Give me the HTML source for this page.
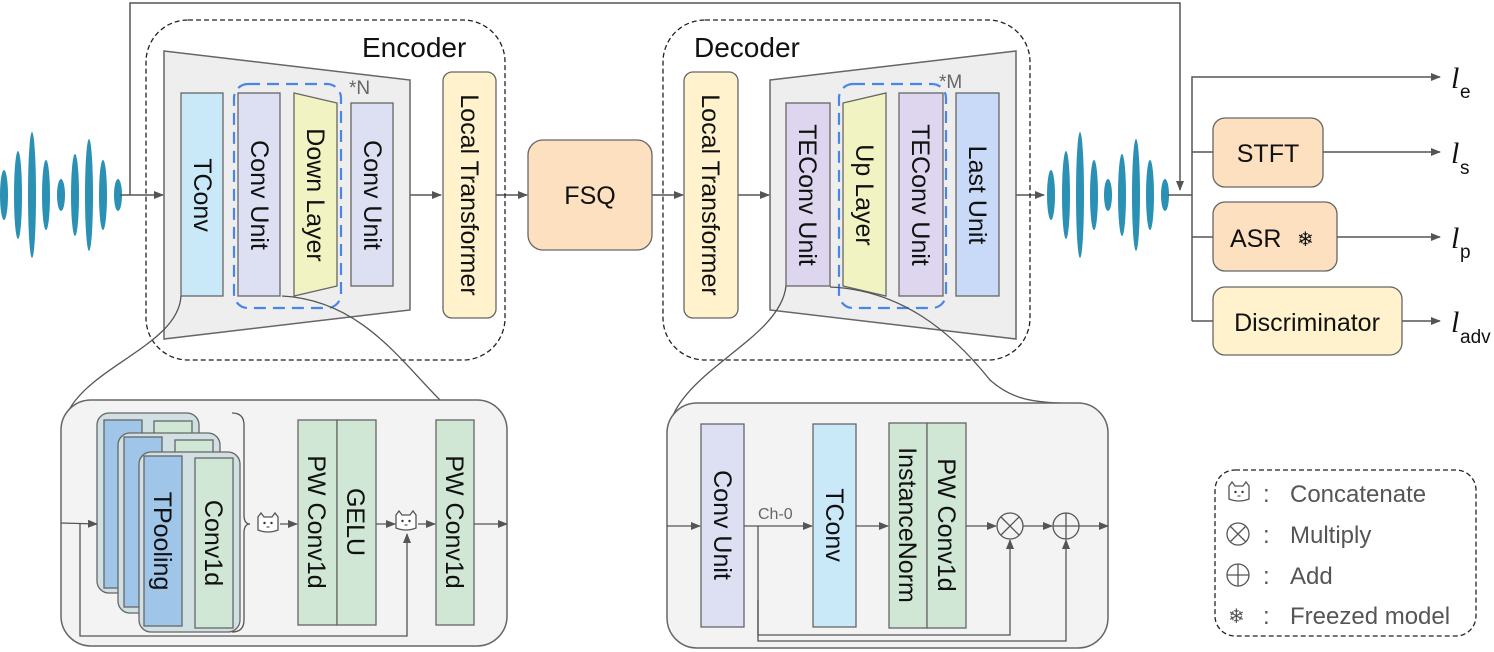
<!DOCTYPE html>
<html><head><meta charset="utf-8"><style>
html,body{margin:0;padding:0;background:#fff;}
svg{display:block;font-family:"Liberation Sans",Arial,sans-serif;}
</style></head><body>
<svg width="1494" height="652" viewBox="0 0 1494 652" xmlns="http://www.w3.org/2000/svg">
<defs>
<marker id="ah" markerWidth="10" markerHeight="8" refX="9" refY="4" orient="auto" markerUnits="userSpaceOnUse"><path d="M0,0 L10,4 L0,8 z" fill="#555"/></marker>
<g id="cat"><path d="M-10,-7 L-7,-11 L-4,-7 L4,-7 L7,-11 L10,-7 L10,6 Q0,10 -10,6 Z" fill="#fff" stroke="#555" stroke-width="1.3"/><circle cx="-3.5" cy="-1" r="1.2" fill="#333"/><circle cx="3.5" cy="-1" r="1.2" fill="#333"/><path d="M-1.5,3 L1.5,3" stroke="#333"/></g>
</defs>
<g stroke="#555" stroke-width="1.5" fill="none">
<polyline points="130,195 130,3 1180,3 1180,190" marker-end="url(#ah)"/>
</g>
<g fill="#2b91b4">
<ellipse cx="4" cy="195" rx="4" ry="25"/><ellipse cx="18" cy="195" rx="4" ry="44"/><ellipse cx="32" cy="195" rx="4" ry="63"/><ellipse cx="46" cy="195" rx="4" ry="35"/><ellipse cx="61" cy="195" rx="4" ry="16"/><ellipse cx="75" cy="195" rx="4" ry="41"/><ellipse cx="89" cy="195" rx="4" ry="56"/><ellipse cx="103" cy="195" rx="4" ry="35"/><ellipse cx="118" cy="195" rx="4" ry="16"/>
<ellipse cx="1051" cy="195" rx="4" ry="25"/><ellipse cx="1066" cy="195" rx="4" ry="44"/><ellipse cx="1080" cy="195" rx="4" ry="63"/><ellipse cx="1094" cy="195" rx="4" ry="35"/><ellipse cx="1108" cy="195" rx="4" ry="16"/><ellipse cx="1122" cy="195" rx="4" ry="41"/><ellipse cx="1136" cy="195" rx="4" ry="56"/><ellipse cx="1150" cy="195" rx="4" ry="35"/><ellipse cx="1165" cy="195" rx="4" ry="16"/>
</g>
<g stroke="#555" stroke-width="1.5" fill="none">
<line x1="120" y1="195" x2="163" y2="195" marker-end="url(#ah)"/>
<line x1="410" y1="195" x2="441" y2="195" marker-end="url(#ah)"/>
<line x1="496" y1="195" x2="527" y2="195" marker-end="url(#ah)"/>
<line x1="652" y1="195" x2="683" y2="195" marker-end="url(#ah)"/>
<line x1="738" y1="195" x2="769" y2="195" marker-end="url(#ah)"/>
<line x1="1016" y1="195" x2="1044" y2="195" marker-end="url(#ah)"/>
<polyline points="1168,195 1192,195"/>
<polyline points="1192,321 1192,77 1440,77" marker-end="url(#ah)"/>
<line x1="1192" y1="152" x2="1213" y2="152"/>
<line x1="1192" y1="237" x2="1213" y2="237"/>
<line x1="1192" y1="321" x2="1213" y2="321"/>
<line x1="1323" y1="152" x2="1440" y2="152" marker-end="url(#ah)"/>
<line x1="1337" y1="237" x2="1440" y2="237" marker-end="url(#ah)"/>
<line x1="1402" y1="321" x2="1440" y2="321" marker-end="url(#ah)"/>
</g>
<!-- Encoder -->
<rect x="146" y="20" width="359" height="340" rx="42" fill="none" stroke="#222" stroke-width="1.3" stroke-dasharray="5,3"/>
<text x="362" y="57" font-size="28" fill="#111">Encoder</text>
<polygon points="164,51 410,80 410,310 164,339" fill="#eeeeee" stroke="#666" stroke-width="1.5"/>
<rect x="181" y="93" width="42" height="203" fill="#c9e8f8" stroke="#666" stroke-width="1.3"/>
<rect x="238" y="93" width="42" height="203" fill="#dde0f2" stroke="#666" stroke-width="1.3"/>
<polygon points="294,93 337,103 337,286 294,296" fill="#f1f4c2" stroke="#666" stroke-width="1.3"/>
<rect x="351" y="103" width="42" height="183" fill="#dde0f2" stroke="#666" stroke-width="1.3"/>
<rect x="234" y="84" width="107" height="224" rx="14" fill="none" stroke="#4a86e8" stroke-width="2.2" stroke-dasharray="12,7"/>
<text x="349" y="94" font-size="19" fill="#666">*N</text>
<rect x="443" y="72" width="53" height="246" rx="9" fill="#fff2cc" stroke="#666" stroke-width="1.3"/>
<g font-size="25" fill="#111" text-anchor="middle">
<text transform="translate(194,195) rotate(90)">TConv</text>
<text transform="translate(251,195) rotate(90)">Conv Unit</text>
<text transform="translate(307,195) rotate(90)">Down Layer</text>
<text transform="translate(364,195) rotate(90)">Conv Unit</text>
<text transform="translate(461,195) rotate(90)">Local Transformer</text>
</g>
<rect x="528" y="140" width="124" height="110" rx="15" fill="#fde0bf" stroke="#666" stroke-width="1.3"/>
<text x="590" y="204" font-size="25" text-anchor="middle" fill="#111">FSQ</text>
<!-- Decoder -->
<rect x="663" y="20" width="367" height="340" rx="42" fill="none" stroke="#222" stroke-width="1.3" stroke-dasharray="5,3"/>
<text x="694" y="57" font-size="28" fill="#111">Decoder</text>
<rect x="684" y="72" width="54" height="246" rx="9" fill="#fff2cc" stroke="#666" stroke-width="1.3"/>
<polygon points="770,80 1016,51 1016,339 770,310" fill="#eeeeee" stroke="#666" stroke-width="1.5"/>
<rect x="786" y="103" width="44" height="183" fill="#ddd6ee" stroke="#666" stroke-width="1.3"/>
<polygon points="843,103 886,93 886,296 843,286" fill="#f1f4c2" stroke="#666" stroke-width="1.3"/>
<rect x="899" y="93" width="44" height="203" fill="#ddd6ee" stroke="#666" stroke-width="1.3"/>
<rect x="956" y="93" width="43" height="203" fill="#c9daf8" stroke="#666" stroke-width="1.3"/>
<rect x="839" y="84" width="107" height="224" rx="14" fill="none" stroke="#4a86e8" stroke-width="2.2" stroke-dasharray="12,7"/>
<text x="939" y="88" font-size="19" fill="#666">*M</text>
<g font-size="25" fill="#111" text-anchor="middle">
<text transform="translate(702,195) rotate(90)">Local Transformer</text>
<text transform="translate(799,195) rotate(90)">TEConv Unit</text>
<text transform="translate(856,195) rotate(90)">Up Layer</text>
<text transform="translate(912,195) rotate(90)">TEConv Unit</text>
<text transform="translate(969,195) rotate(90)">Last Unit</text>
</g>
<!-- right side -->
<rect x="1213" y="118" width="110" height="69" rx="12" fill="#fde0bf" stroke="#666" stroke-width="1.3"/>
<text x="1268" y="162" font-size="25" text-anchor="middle" fill="#111">STFT</text>
<rect x="1213" y="202" width="124" height="69" rx="12" fill="#fde0bf" stroke="#666" stroke-width="1.3"/>
<text x="1230" y="247" font-size="25" fill="#111">ASR</text>
<text x="1297" y="246" font-size="20" fill="#111">❄</text>
<rect x="1213" y="287" width="189" height="68" rx="12" fill="#fff2cc" stroke="#666" stroke-width="1.3"/>
<text x="1307" y="331" font-size="25" text-anchor="middle" fill="#111">Discriminator</text>
<g font-size="30" fill="#111" font-style="italic" font-family="Liberation Serif, serif">
<text x="1451" y="88">l</text><text x="1451" y="163">l</text><text x="1451" y="248">l</text><text x="1451" y="332">l</text>
</g>
<g font-size="19" fill="#111">
<text x="1460" y="98">e</text><text x="1460" y="174">s</text><text x="1460" y="258">p</text><text x="1460" y="343">adv</text>
</g>
<!-- zoom curves -->
<g stroke="#555" stroke-width="1.3" fill="none">
<path d="M181,296 C178,350 70,370 62,430"/>
<path d="M282,296 C360,300 400,360 440,400"/>
<path d="M786,286 C780,340 680,370 668,430"/>
<path d="M830,287 C900,290 950,330 990,380 C1010,398 1030,402 1060,403"/>
</g>
<!-- bottom left box -->
<rect x="61" y="400" width="446" height="246" rx="30" fill="#f3f3f3" stroke="#666" stroke-width="1.5"/>
<g stroke="#666" stroke-width="1.3">
<rect x="97" y="413" width="102" height="180" rx="12" fill="#d0e0e3"/>
<rect x="104" y="420" width="38" height="168" fill="#9fc5e8"/>
<rect x="154" y="421" width="38" height="168" fill="#cfe7d4"/>
<rect x="118" y="433" width="102" height="180" rx="12" fill="#d0e0e3"/>
<rect x="124" y="437" width="38" height="170" fill="#9fc5e8"/>
<rect x="175" y="440" width="38" height="168" fill="#cfe7d4"/>
<rect x="139" y="452" width="101" height="180" rx="12" fill="#d0e0e3"/>
<rect x="144" y="456" width="38" height="170" fill="#9fc5e8"/>
<rect x="195" y="458" width="38" height="170" fill="#cfe7d4"/>
<rect x="298" y="420" width="39" height="205" fill="#cfe7d4"/>
<rect x="337" y="420" width="39" height="205" fill="#cfe7d4"/>
<rect x="436" y="420" width="38" height="205" fill="#cfe7d4"/>
</g>
<g font-size="25" fill="#111" text-anchor="middle">
<text transform="translate(154,541) rotate(90)">TPooling</text>
<text transform="translate(205,543) rotate(90)">Conv1d</text>
<text transform="translate(308,522) rotate(90)">PW Conv1d</text>
<text transform="translate(347,522) rotate(90)">GELU</text>
<text transform="translate(446,522) rotate(90)">PW Conv1d</text>
</g>
<g stroke="#555" stroke-width="1.3" fill="none">
<path d="M232,413 Q244,413 244,425 L244,515 Q244,524 250,524 Q244,524 244,533 L244,620 Q244,632 232,632"/>
<line x1="61" y1="523" x2="97" y2="524" marker-end="url(#ah)"/>
<polyline points="80,524 80,636 407,636 407,534" marker-end="url(#ah)"/>
<line x1="280" y1="524" x2="297" y2="524" marker-end="url(#ah)"/>
<line x1="376" y1="524" x2="395" y2="524" marker-end="url(#ah)"/>
<line x1="418" y1="524" x2="435" y2="524" marker-end="url(#ah)"/>
<line x1="474" y1="524" x2="507" y2="524" marker-end="url(#ah)"/>
</g>
<use href="#cat" x="268" y="524"/>
<use href="#cat" x="406" y="522"/>
<!-- bottom right box -->
<rect x="667" y="403" width="441" height="245" rx="30" fill="#f3f3f3" stroke="#666" stroke-width="1.5"/>
<g stroke="#666" stroke-width="1.3">
<rect x="701" y="424" width="43" height="203" fill="#dde0f2"/>
<rect x="813" y="424" width="43" height="203" fill="#c9e8f8"/>
<rect x="889" y="423" width="38" height="205" fill="#cfe7d4"/>
<rect x="927" y="423" width="39" height="205" fill="#cfe7d4"/>
</g>
<g font-size="25" fill="#111" text-anchor="middle">
<text transform="translate(714,525) rotate(90)">Conv Unit</text>
<text transform="translate(826,525) rotate(90)">TConv</text>
<text transform="translate(899,525) rotate(90)">InstanceNorm</text>
<text transform="translate(938,525) rotate(90)">PW Conv1d</text>
</g>
<text x="758" y="519" font-size="16" fill="#666">Ch-0</text>
<g stroke="#555" stroke-width="1.3" fill="none">
<line x1="667" y1="526" x2="700" y2="526" marker-end="url(#ah)"/>
<line x1="744" y1="526" x2="812" y2="526" marker-end="url(#ah)"/>
<line x1="856" y1="526" x2="888" y2="526" marker-end="url(#ah)"/>
<line x1="966" y1="526" x2="996" y2="526" marker-end="url(#ah)"/>
<line x1="1023" y1="526" x2="1052" y2="526" marker-end="url(#ah)"/>
<line x1="1079" y1="526" x2="1108" y2="526" marker-end="url(#ah)"/>
<polyline points="758,526 758,635 1010,635 1010,540" marker-end="url(#ah)"/>
<polyline points="758,600 758,641 1066,641 1066,540" marker-end="url(#ah)"/>
<circle cx="1010" cy="526" r="13" fill="#f3f3f3"/>
<path d="M1001,517 L1019,535 M1019,517 L1001,535"/>
<circle cx="1066" cy="526" r="13" fill="#f3f3f3"/>
<path d="M1053,526 L1079,526 M1066,513 L1066,539"/>
</g>
<!-- legend -->
<rect x="1215" y="470" width="261" height="166" rx="20" fill="none" stroke="#222" stroke-width="1.3" stroke-dasharray="5,3"/>
<use href="#cat" x="1239" y="493"/>
<g stroke="#555" stroke-width="1.3" fill="none">
<circle cx="1238" cy="534" r="11"/><path d="M1230,526 L1246,542 M1246,526 L1230,542"/>
<circle cx="1238" cy="575" r="11"/><path d="M1227,575 L1249,575 M1238,564 L1238,586"/>
</g>
<text x="1228" y="623" font-size="20" fill="#555">❄</text>
<g font-size="24" fill="#555">
<text x="1263" y="502">:</text><text x="1290" y="502">Concatenate</text>
<text x="1263" y="543">:</text><text x="1290" y="543">Multiply</text>
<text x="1263" y="584">:</text><text x="1290" y="584">Add</text>
<text x="1263" y="624">:</text><text x="1290" y="624">Freezed model</text>
</g>
</svg>
</body></html>
